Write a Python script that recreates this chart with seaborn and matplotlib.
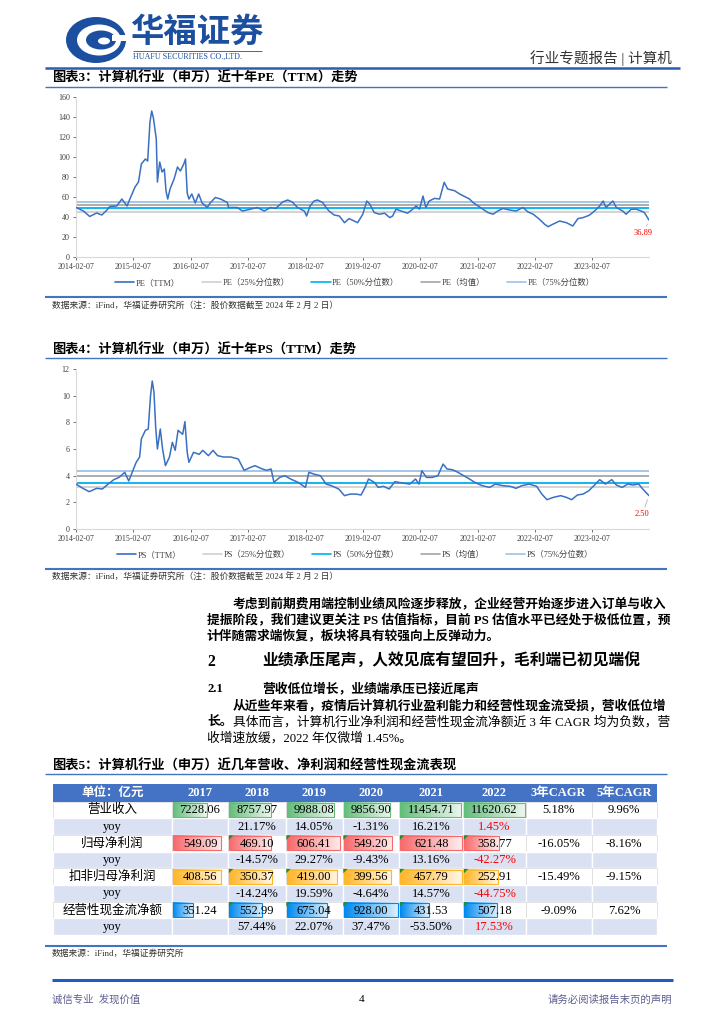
import numpy as np
import pandas as pd
import matplotlib
matplotlib.use("Agg")
import matplotlib.pyplot as plt
from matplotlib.lines import Line2D
from matplotlib.patches import Rectangle, Polygon, Ellipse
import seaborn as sns

# ---------------- data ----------------
pe_t = [2014.10, 2014.23, 2014.34, 2014.46, 2014.55, 2014.64, 2014.69, 2014.81, 2014.90, 2014.99,
        2015.04, 2015.13, 2015.19, 2015.24, 2015.31, 2015.35, 2015.39, 2015.42, 2015.45, 2015.50,
        2015.52, 2015.56, 2015.60, 2015.64, 2015.67, 2015.70, 2015.74, 2015.81, 2015.87, 2015.92,
        2015.98, 2016.01, 2016.04, 2016.07, 2016.12, 2016.18, 2016.24, 2016.30, 2016.39, 2016.44,
        2016.53, 2016.62, 2016.74, 2016.76, 2016.91, 2017.00, 2017.14, 2017.26, 2017.38, 2017.49,
        2017.58, 2017.70, 2017.79, 2017.87, 2017.96, 2018.08, 2018.12, 2018.18, 2018.25, 2018.31,
        2018.40, 2018.46, 2018.51, 2018.60, 2018.69, 2018.78, 2018.86, 2018.95, 2019.01, 2019.10,
        2019.17, 2019.22, 2019.30, 2019.39, 2019.48, 2019.57, 2019.62, 2019.68, 2019.77, 2019.88,
        2019.97, 2020.03, 2020.09, 2020.15, 2020.20, 2020.26, 2020.35, 2020.44, 2020.52, 2020.58,
        2020.70, 2020.79, 2020.87, 2020.96, 2021.02, 2021.11, 2021.19, 2021.28, 2021.37, 2021.45,
        2021.54, 2021.66, 2021.77, 2021.89, 2021.98, 2022.07, 2022.18, 2022.27, 2022.33, 2022.41,
        2022.53, 2022.65, 2022.76, 2022.85, 2022.94, 2023.05, 2023.14, 2023.23, 2023.29, 2023.34,
        2023.46, 2023.52, 2023.63, 2023.69, 2023.78, 2023.87, 2023.95, 2024.01, 2024.09]
pe_v = [49.5, 46, 40.5, 44, 42, 47, 50.5, 51, 58, 51,
        58, 70, 75, 93, 98, 96, 135, 146, 139, 118,
        75, 95, 85, 88, 66, 58, 68, 78, 90, 86,
        93, 98, 64, 58, 63, 54, 63, 54, 49.5, 54,
        59.5, 58, 54.5, 49.5, 49.5, 46, 47.8, 49.5, 46, 49.5,
        48.5, 55, 57, 55, 49.5, 46, 41, 51, 56, 57,
        54.5, 49.5, 46, 42, 41, 34.3, 38.4, 36, 34.3, 42.8,
        56, 53, 44.4, 42.8, 43.8, 39.4, 41, 47.8, 46, 43.8,
        47.8, 51, 47.8, 61, 49.5, 56, 58.6, 58, 74.7, 68,
        66.3, 63, 60.6, 58, 54.5, 51, 47.8, 44.4, 42.8, 46,
        48.5, 47, 46, 49.5, 45, 42.8, 37.7, 32.7, 30.3, 32.7,
        36, 34.3, 31, 38.4, 39.4, 41.8, 46, 51, 56, 49.5,
        56, 49.5, 46, 42.8, 47.8, 47.8, 46, 44.4, 36.89]
pe_q25, pe_q50, pe_mean, pe_q75 = 44.8, 48.6, 52.3, 55.4

ps_t = [2014.10, 2014.20, 2014.33, 2014.46, 2014.56, 2014.66, 2014.76, 2014.85, 2014.95, 2015.02,
        2015.08, 2015.15, 2015.21, 2015.24, 2015.31, 2015.36, 2015.40, 2015.43, 2015.46, 2015.49,
        2015.52, 2015.57, 2015.61, 2015.66, 2015.73, 2015.78, 2015.83, 2015.88, 2015.96, 2016.00,
        2016.04, 2016.07, 2016.15, 2016.25, 2016.31, 2016.41, 2016.49, 2016.57, 2016.67, 2016.80,
        2016.93, 2017.03, 2017.13, 2017.22, 2017.32, 2017.42, 2017.50, 2017.55, 2017.65, 2017.74,
        2017.84, 2017.97, 2018.10, 2018.16, 2018.26, 2018.36, 2018.46, 2018.55, 2018.68, 2018.78,
        2018.88, 2018.98, 2019.07, 2019.14, 2019.20, 2019.30, 2019.37, 2019.46, 2019.56, 2019.66,
        2019.79, 2019.92, 2020.02, 2020.08, 2020.13, 2020.21, 2020.31, 2020.41, 2020.50, 2020.57,
        2020.66, 2020.76, 2020.86, 2020.96, 2021.05, 2021.18, 2021.31, 2021.41, 2021.54, 2021.67,
        2021.77, 2021.87, 2022.00, 2022.13, 2022.22, 2022.31, 2022.42, 2022.55, 2022.65, 2022.74,
        2022.84, 2022.94, 2023.04, 2023.13, 2023.23, 2023.33, 2023.44, 2023.52, 2023.62, 2023.72,
        2023.81, 2023.91, 2023.98, 2024.09]
ps_v = [3.37, 3.1, 2.8, 3.05, 3.0, 3.37, 3.7, 3.87, 4.25, 3.6,
        4.25, 5.0, 5.4, 6.75, 7.4, 7.5, 10.0, 11.1, 10.25, 7.6,
        6.0, 7.5, 6.0, 4.75, 5.4, 6.5, 5.9, 7.4, 7.1, 8.05,
        5.75, 5.0, 5.75, 5.6, 5.9, 5.5, 5.9, 5.5, 5.4, 5.4,
        5.25, 4.4, 4.6, 4.75, 4.55, 4.4, 4.5, 3.5, 3.87, 4.0,
        3.75, 3.5, 3.12, 4.25, 4.1, 4.0, 3.37, 3.25, 3.0, 2.5,
        2.62, 2.62, 2.55, 3.12, 3.75, 3.5, 3.12, 3.2, 3.0, 3.55,
        3.45, 3.37, 3.75, 3.37, 4.37, 3.87, 3.87, 4.0, 4.87, 4.5,
        4.45, 4.25, 4.0, 3.75, 3.5, 3.25, 3.12, 3.37, 3.25, 3.2,
        3.05, 3.25, 3.37, 3.2, 2.62, 2.2, 2.37, 2.5, 2.37, 2.2,
        2.55, 2.62, 2.87, 3.25, 3.7, 3.37, 3.7, 3.3, 3.12, 3.37,
        3.3, 3.37, 3.0, 2.50]
ps_q25, ps_q50, ps_mean, ps_q75 = 3.17, 3.47, 3.97, 4.35

tick_years = list(range(2014, 2024))

years = ['2017', '2018', '2019', '2020', '2021', '2022']
revenue = [7228.06, 8757.97, 9988.08, 9856.90, 11454.71, 11620.62]
revenue_yoy = [np.nan, 21.17, 14.05, -1.31, 16.21, 1.45]
revenue_cagr = [5.18, 9.96]
netprofit = [549.09, 469.10, 606.41, 549.20, 621.48, 358.77]
netprofit_yoy = [np.nan, -14.57, 29.27, -9.43, 13.16, -42.27]
netprofit_cagr = [-16.05, -8.16]
deducted = [408.56, 350.37, 419.00, 399.56, 457.79, 252.91]
deducted_yoy = [np.nan, -14.24, 19.59, -4.64, 14.57, -44.75]
deducted_cagr = [-15.49, -9.15]
cashflow = [351.24, 552.99, 675.04, 928.00, 431.53, 507.18]
cashflow_yoy = [np.nan, 57.44, 22.07, 37.47, -53.50, 17.53]
cashflow_cagr = [-9.09, 7.62]

# ---------------- setup ----------------
sns.set_theme(style="white")
plt.rcParams['font.family'] = ['Liberation Serif', 'Noto Sans CJK SC', 'DejaVu Sans']
plt.rcParams['axes.unicode_minus'] = False

W, H = 724, 1024
fig = plt.figure(figsize=(7.24, 10.24), dpi=100)
fig.patch.set_facecolor('white')

bg = fig.add_axes([0, 0, 1, 1])
bg.set_xlim(0, W)
bg.set_ylim(H, 0)
bg.set_autoscale_on(False)
bg.axis('off')

BLUE = '#1C4FA0'


def hline(y, x0, x1, color, lw):
    bg.add_line(Line2D([x0, x1], [y, y], color=color, lw=lw, solid_capstyle='butt'))


def txt(x, y, s, size, weight='normal', color='black', ha='left', va='center', **kw):
    return bg.text(x, y, s, fontsize=size, fontweight=weight, color=color, ha=ha, va=va, **kw)


# ---------------- header ----------------
bg.add_patch(Ellipse((96, 40), 60, 46, fc=BLUE, ec='none'))
bg.add_patch(Ellipse((99, 40), 44, 31, fc='white', ec='none'))
bg.add_patch(Ellipse((101, 40), 30, 19, fc=BLUE, ec='none'))
bg.add_patch(Ellipse((104, 41), 12, 7, fc='white', ec='none'))
bg.add_patch(Rectangle((112, 35), 16, 6, fc='white', ec='none'))
txt(130, 33, '华福证券', 24, 'bold', BLUE)
hline(50.5, 133, 262, BLUE, 0.6)
txt(133, 57, 'HUAFU SECURITIES CO.,LTD.', 5.8, color=BLUE)
txt(672, 58, '行业专题报告 | 计算机', 10.5, color='#333333', ha='right')
hline(68, 45, 680, '#2F5CAB', 1.8)

# ---------------- time series charts ----------------
def yr2date(t):
    y = int(np.floor(t))
    return pd.Timestamp(year=y, month=1, day=1) + pd.Timedelta(days=(t - y) * 365.25)


def draw_ts(top, bottom, t, v, prefix, q25, q50, qmean, q75, ymax, ystep,
            legend_y, lab_off, yfmt):
    ax = fig.add_axes([76 / W, 1 - bottom / H, (649 - 76) / W, (bottom - top) / H])
    ax.set_facecolor('none')
    dates = [yr2date(x) for x in t]
    df = pd.DataFrame({'date': dates, 'value': v})
    qcols = ['#D0D0D0', '#00B0F0', '#A6A6A6', '#9DC3E6']
    for val, col in zip([q25, q50, qmean, q75], qcols):
        ax.axhline(val, color=col, lw=1.3, zorder=1)
    sns.lineplot(data=df, x='date', y='value', ax=ax, color='#3A70C2', lw=1.1, zorder=3)
    ax.set_xlim(dates[0], dates[-1])
    ax.set_ylim(0, ymax)
    ticks = [pd.Timestamp(f'{y}-02-07') for y in tick_years]
    ax.set_xticks(ticks)
    ax.set_xticklabels([d.strftime('%Y-%m-%d') for d in ticks])
    yt = np.arange(0, ymax + 0.001, ystep)
    ax.set_yticks(yt)
    ax.set_yticklabels([yfmt(x) for x in yt])
    ax.set_xlabel('')
    ax.set_ylabel('')
    ax.tick_params(axis='both', labelsize=5.8, labelcolor='#404040', color='#595959',
                   length=2.5, width=0.6, direction='out', pad=2, bottom=True, left=True)
    for s in ['top', 'right']:
        ax.spines[s].set_visible(False)
    for s in ['left', 'bottom']:
        ax.spines[s].set_color('#D9D9D9')
        ax.spines[s].set_linewidth(0.8)
    ax.annotate(f'{v[-1]:.2f}', xy=(dates[-1], v[-1]), xytext=lab_off, textcoords='offset points',
                fontsize=6, color='#FF0000', ha='center', va='center',
                arrowprops=dict(arrowstyle='-', color='#A6A6A6', lw=0.5, shrinkA=0, shrinkB=3))
    handles = [Line2D([], [], color='#3A70C2', lw=1.2)] + [Line2D([], [], color=c, lw=1.2) for c in
                                                            ['#D0D0D0', '#00B0F0', '#A6A6A6', '#9DC3E6']]
    labels = [f'{prefix}（TTM）', f'{prefix}（25%分位数）', f'{prefix}（50%分位数）',
              f'{prefix}（均值）', f'{prefix}（75%分位数）']
    fig.legend(handles, labels, loc='center', bbox_to_anchor=(355 / W, 1 - legend_y / H), ncol=5,
               frameon=False, fontsize=6, handlelength=2.3, columnspacing=2.6, handletextpad=0.2,
               labelcolor='#404040')
    return ax


# chart 3
txt(52, 78, '图表3：计算机行业（申万）近十年PE（TTM）走势', 9.5, 'bold')
hline(86.5, 45, 667, '#4472C4', 1.0)
draw_ts(97, 257, pe_t, pe_v, 'PE', pe_q25, pe_q50, pe_mean, pe_q75, 160, 20, 283,
        (-4, -9.5), lambda x: f'{int(x)}')
hline(297, 45, 667, '#4472C4', 1.5)
txt(52, 306, '数据来源：iFind，华福证券研究所（注：股价数据截至 2024 年 2 月 2 日）', 6.3, color='#333333')

# chart 4
txt(52, 350, '图表4：计算机行业（申万）近十年PS（TTM）走势', 9.5, 'bold')
hline(358, 45, 667, '#4472C4', 1.0)
draw_ts(369, 529, ps_t, ps_v, 'PS', ps_q25, ps_q50, ps_mean, ps_q75, 12, 2, 555,
        (-5, -13.5), lambda x: f'{int(x)}')
hline(569, 45, 667, '#4472C4', 1.5)
txt(52, 577, '数据来源：iFind，华福证券研究所（注：股价数据截至 2024 年 2 月 2 日）', 6.3, color='#333333')

# ---------------- body text ----------------
BS = 9.2
txt(233, 604, '考虑到前期费用端控制业绩风险逐步释放，企业经营开始逐步进入订单与收入', BS, 'bold')
txt(207, 620, '提振阶段，我们建议更关注 PS 估值指标，目前 PS 估值水平已经处于极低位置，预', BS, 'bold')
txt(207, 636, '计伴随需求端恢复，板块将具有较强向上反弹动力。', BS, 'bold')
txt(207, 662, '2', 11.3, 'bold')
txt(262, 662, '业绩承压尾声，人效见底有望回升，毛利端已初见端倪', 11.3, 'bold')
txt(207, 689, '2.1', BS, 'bold')
txt(262, 689, '营收低位增长，业绩端承压已接近尾声', BS, 'bold')
txt(233, 706, '从近些年来看，疫情后计算机行业盈利能力和经营性现金流受损，营收低位增', BS, 'bold')
txt(207, 722, '长。', BS, 'bold')
txt(207 + 2 * BS * 100 / 72, 722, '具体而言，计算机行业净利润和经营性现金流净额近 3 年 CAGR 均为负数，营', BS)
txt(207, 738, '收增速放缓，2022 年仅微增 1.45%。', BS)

# ---------------- table ----------------
txt(52, 766, '图表5：计算机行业（申万）近几年营收、净利润和经营性现金流表现', 9.5, 'bold')
hline(773.5, 45, 667, '#4472C4', 1.0)

col_x = [52.7, 171.7, 228.3, 285.7, 342.7, 399.3, 463.3, 525.7, 591.7, 656.7]
hdr_top, hdr_bot, row_h = 784.0, 801.5, 16.7
TS = 9

bg.add_patch(Rectangle((col_x[0], hdr_top), col_x[-1] - col_x[0], hdr_bot - hdr_top,
                       fc='#4472C4', ec='none', zorder=1))
headers = ['单位：亿元'] + years + ['3年CAGR', '5年CAGR']
for i, h in enumerate(headers):
    cx = (col_x[i] + col_x[i + 1]) / 2
    txt(cx, (hdr_top + hdr_bot) / 2 + 0.5, h, 9, 'bold', 'white', ha='center', zorder=5)

metrics = [
    ('营业收入', revenue, revenue_yoy, revenue_cagr, (0x63, 0xBE, 0x7B), False),
    ('归母净利润', netprofit, netprofit_yoy, netprofit_cagr, (0xF8, 0x69, 0x6B), True),
    ('扣非归母净利润', deducted, deducted_yoy, deducted_cagr, (0xFF, 0xB6, 0x28), True),
    ('经营性现金流净额', cashflow, cashflow_yoy, cashflow_cagr, (0x00, 0x8A, 0xEF), True),
]

for m, (label, vals, yoys, cagr, rgb, flag) in enumerate(metrics):
    base = np.array(rgb) / 255.0
    hexc = '#%02X%02X%02X' % rgb
    y0 = hdr_bot + 2 * m * row_h
    y1 = y0 + row_h
    yc = (y0 + y1) / 2
    for c in range(9):
        bg.add_patch(Rectangle((col_x[c], y0), col_x[c + 1] - col_x[c], row_h,
                               fc='white', ec='#D9D9D9', lw=0.5, zorder=1))
    txt((col_x[0] + col_x[1]) / 2, yc, label, TS, ha='center', zorder=5)
    vmax = max(vals)
    for j, v in enumerate(vals):
        c0, c1 = col_x[j + 1], col_x[j + 2]
        bl = (c1 - c0 - 2) * v / vmax
        f = np.linspace(0.0, 0.88, 64)
        grad = np.ones((1, 64, 3))
        for k in range(3):
            grad[0, :, k] = base[k] * (1 - f) + f
        bg.imshow(grad, extent=(c0 + 1, c0 + 1 + bl, y1 - 1.3, y0 + 1.3), aspect='auto',
                  interpolation='bilinear', zorder=2)
        bg.add_patch(Rectangle((c0 + 1, y0 + 1.3), bl, row_h - 2.6, fc='none', ec=hexc,
                               lw=0.8, zorder=3))
        if flag and j > 0:
            bg.add_patch(Polygon([(c0 + 0.6, y0 + 0.6), (c0 + 5, y0 + 0.6), (c0 + 0.6, y0 + 5)],
                                 closed=True, fc='#2A8A2A', ec='none', zorder=4))
        txt((c0 + c1) / 2, yc + 0.5, f'{v:.2f}', TS, ha='center', zorder=5)
    for k, cg in enumerate(cagr):
        c0, c1 = col_x[7 + k], col_x[8 + k]
        txt((c0 + c1) / 2, yc + 0.5, f'{cg:.2f}%', TS, ha='center', zorder=5)
    # yoy row
    y0b = y1
    y1b = y0b + row_h
    ycb = (y0b + y1b) / 2
    for c in range(9):
        bg.add_patch(Rectangle((col_x[c], y0b), col_x[c + 1] - col_x[c], row_h,
                               fc='#D9E1F2', ec='white', lw=1.0, zorder=1))
    txt((col_x[0] + col_x[1]) / 2, ycb, 'yoy', TS, ha='center', zorder=5)
    for j, v in enumerate(yoys):
        if np.isnan(v):
            continue
        c0, c1 = col_x[j + 1], col_x[j + 2]
        color = '#FF0000' if j == len(yoys) - 1 else 'black'
        txt((c0 + c1) / 2, ycb + 0.5, f'{v:.2f}%', TS, color=color, ha='center', zorder=5)

hline(945.5, 45, 667, '#4472C4', 1.5)
txt(52, 953, '数据来源：iFind，华福证券研究所', 6.3, color='#333333')

# ---------------- footer ----------------
hline(980, 52, 673, '#1F5BC0', 2.2)
txt(52, 1000, '诚信专业  发现价值', 7.5, color='#5E5E92')
txt(362, 1000, '4', 8, ha='center')
txt(672, 1000, '请务必阅读报告末页的声明', 7.5, color='#5E5E92', ha='right')

fig.savefig('out.png', dpi=100, facecolor='white')
